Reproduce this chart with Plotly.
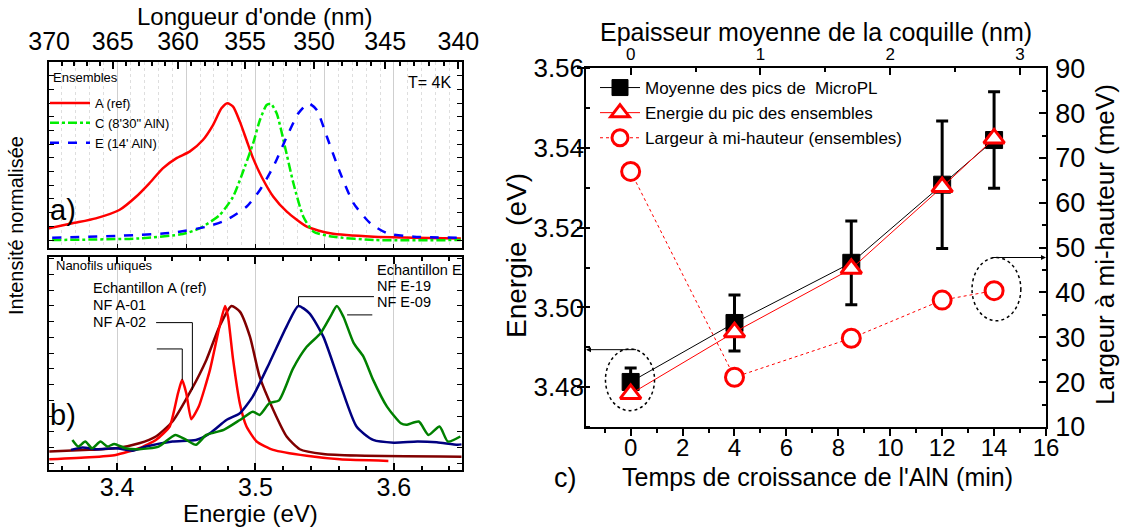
import plotly.graph_objects as go

FONT = "Liberation Sans, Arial, sans-serif"

# ---------------- Panel a : ensembles (normalised PL) ----------------
ensA_E = [3.3507, 3.3677, 3.3846, 3.4016, 3.4137, 3.4233, 3.433, 3.4427, 3.4524, 3.462, 3.4693,
          3.4754, 3.4797, 3.4838, 3.4887, 3.4935, 3.4983, 3.5044, 3.5129, 3.5226, 3.5371, 3.554,
          3.5855, 3.6484]
ensA_I = [0.085, 0.122, 0.158, 0.219, 0.316, 0.414, 0.523, 0.596, 0.645, 0.73, 0.839,
          0.961, 0.998, 0.973, 0.864, 0.73, 0.596, 0.462, 0.316, 0.207, 0.097, 0.049,
          0.024, 0.012]

ensC_E = [3.3531, 3.4161, 3.4475, 3.4596, 3.4741, 3.4838, 3.4923, 3.4983, 3.5032, 3.508, 3.511,
          3.5153, 3.5213, 3.5274, 3.5346, 3.5419, 3.5564, 3.5855, 3.6484]
ensC_I = [0.0, 0.012, 0.044, 0.085, 0.182, 0.316, 0.535, 0.706, 0.876, 0.985, 0.995,
          0.925, 0.681, 0.414, 0.170, 0.061, 0.024, 0.0, 0.0]

ensE_E = [3.3531, 3.404, 3.4402, 3.4645, 3.479, 3.4935, 3.5032, 3.5129, 3.5226, 3.531, 3.5383,
          3.5443, 3.5516, 3.5613, 3.5709, 3.583, 3.5952, 3.6145, 3.6484]
ensE_I = [0.017, 0.032, 0.054, 0.097, 0.146, 0.243, 0.365, 0.535, 0.754, 0.925, 0.998,
          0.949, 0.754, 0.487, 0.268, 0.122, 0.049, 0.024, 0.017]

# ---------------- Panel b : single nanowires ----------------
nfA01_E = [3.351, 3.380, 3.399, 3.416, 3.428, 3.438, 3.444, 3.447, 3.450, 3.4536, 3.459, 3.467,
           3.474, 3.478, 3.4802, 3.4838, 3.4887, 3.4935, 3.5008, 3.5128, 3.537, 3.561, 3.596]
nfA01_I = [0.025, 0.038, 0.053, 0.095, 0.148, 0.233, 0.445, 0.53, 0.445, 0.28, 0.36, 0.59,
           0.87, 1.0, 0.93, 0.66, 0.38, 0.233, 0.138, 0.085, 0.047, 0.025, 0.015]

nfA02_E = [3.351, 3.380, 3.399, 3.416, 3.428, 3.440, 3.4536, 3.4645, 3.474, 3.4826, 3.4887,
           3.496, 3.503, 3.5128, 3.5225, 3.532, 3.549, 3.573, 3.649]
nfA02_I = [0.074, 0.085, 0.095, 0.127, 0.17, 0.265, 0.466, 0.657, 0.87, 1.0, 0.964,
           0.805, 0.55, 0.34, 0.17, 0.089, 0.059, 0.049, 0.042]

nfE19_E = [3.3667, 3.375, 3.385, 3.399, 3.411, 3.421, 3.440, 3.457, 3.467, 3.479, 3.4887, 3.498,
           3.510, 3.5225, 3.531, 3.539, 3.549, 3.561, 3.573, 3.585, 3.600, 3.617, 3.631, 3.646, 3.649]
nfE19_I = [0.085, 0.10, 0.089, 0.095, 0.08, 0.106, 0.138, 0.148, 0.19, 0.275, 0.318, 0.424,
           0.636, 0.87, 1.0, 0.953, 0.805, 0.508, 0.233, 0.148, 0.131, 0.138, 0.133, 0.117, 0.12]

nfE09_E = [3.3677, 3.372, 3.377, 3.382, 3.388, 3.393, 3.398, 3.406, 3.416, 3.430, 3.442, 3.450,
           3.457, 3.4645, 3.477, 3.4887, 3.498, 3.503, 3.510, 3.517, 3.527, 3.537, 3.547, 3.554,
           3.5588, 3.5636, 3.571, 3.578, 3.585, 3.595, 3.605, 3.609, 3.618, 3.625, 3.633, 3.639, 3.648]
nfE09_I = [0.148, 0.106, 0.138, 0.095, 0.138, 0.106, 0.123, 0.095, 0.089, 0.106, 0.18, 0.148,
           0.117, 0.18, 0.212, 0.275, 0.328, 0.307, 0.381, 0.40, 0.60, 0.74, 0.826, 0.93,
           1.0, 0.93, 0.763, 0.678, 0.53, 0.36, 0.254, 0.244, 0.265, 0.18, 0.233, 0.138, 0.17]

wavelength_ticks = [370, 365, 360, 355, 350, 345, 340]
HC = 1239.84  # eV.nm

# ---------------- Panel c ----------------
time_min = [0, 4, 8.5, 12, 14]
microPL_mean = [3.4813, 3.4961, 3.5112, 3.5308, 3.5420]
microPL_err = [0.0035, 0.0070, 0.0105, 0.0160, 0.0121]
ens_peak = [3.4783, 3.4938, 3.5097, 3.5302, 3.5424]
ens_fwhm = [67.0, 21.1, 29.8, 38.3, 40.4]

W, H = 1122, 532
def px(x): return x / W
def py(y): return 1 - y / H

fig = go.Figure()

# panel a traces
fig.add_trace(go.Scatter(x=ensA_E, y=ensA_I, mode="lines", name="A (ref)", xaxis="x2", yaxis="y2",
                         line=dict(color="#ff0000", width=2.5, shape="spline", smoothing=0.6), legend="legend"))
fig.add_trace(go.Scatter(x=ensC_E, y=ensC_I, mode="lines", name="C (8'30\" AlN)", xaxis="x2", yaxis="y2",
                         line=dict(color="#00ee00", width=2.5, dash="dashdot", shape="spline", smoothing=0.6), legend="legend"))
fig.add_trace(go.Scatter(x=ensE_E, y=ensE_I, mode="lines", name="E (14' AlN)", xaxis="x2", yaxis="y2",
                         line=dict(color="#0000ff", width=2.5, dash="dash", shape="spline", smoothing=0.6), legend="legend"))
fig.add_trace(go.Scatter(x=[], y=[], xaxis="x3", yaxis="y2", showlegend=False, hoverinfo="skip"))

# panel b traces
fig.add_trace(go.Scatter(x=nfA02_E, y=nfA02_I, mode="lines", xaxis="x", yaxis="y", showlegend=False,
                         line=dict(color="#800000", width=2.5, shape="spline", smoothing=0.6)))
fig.add_trace(go.Scatter(x=nfA01_E, y=nfA01_I, mode="lines", xaxis="x", yaxis="y", showlegend=False,
                         line=dict(color="#ff0000", width=2.5, shape="spline", smoothing=0.5)))
fig.add_trace(go.Scatter(x=nfE19_E, y=nfE19_I, mode="lines", xaxis="x", yaxis="y", showlegend=False,
                         line=dict(color="#000080", width=2.5, shape="spline", smoothing=0.6)))
fig.add_trace(go.Scatter(x=nfE09_E, y=nfE09_I, mode="lines", xaxis="x", yaxis="y", showlegend=False,
                         line=dict(color="#008000", width=2.5, shape="spline", smoothing=0.6)))

# panel c traces
fig.add_trace(go.Scatter(x=time_min, y=microPL_mean, mode="lines+markers", name="Moyenne des pics de\u00a0 MicroPL",
                         xaxis="x4", yaxis="y4", legend="legend2",
                         line=dict(color="black", width=1),
                         marker=dict(symbol="square", size=17, color="black", line=dict(color="black", width=1)),
                         error_y=dict(type="data", array=microPL_err, visible=True, color="black", thickness=3, width=6)))
fig.add_trace(go.Scatter(x=time_min, y=ens_peak, mode="lines+markers", name="Energie du pic des ensembles",
                         xaxis="x4", yaxis="y4", legend="legend2",
                         line=dict(color="#ff0000", width=1),
                         marker=dict(symbol="triangle-up", size=18, color="white", line=dict(color="#ff0000", width=3))))
fig.add_trace(go.Scatter(x=time_min, y=ens_fwhm, mode="lines+markers", name="Largeur à mi-hauteur (ensembles)",
                         xaxis="x4", yaxis="y5", legend="legend2",
                         line=dict(color="#ff0000", width=1, dash="dot"),
                         marker=dict(symbol="circle", size=18, color="white", line=dict(color="#ff0000", width=3))))
fig.add_trace(go.Scatter(x=[], y=[], xaxis="x5", yaxis="y4", showlegend=False, hoverinfo="skip"))

LX = [px(49), px(461.7)]
ERANGE = [3.3508, 3.649]
base_ax = dict(showline=True, linecolor="black", zeroline=False, tickcolor="black", automargin=False,
               tickfont=dict(family=FONT, color="black"))

layout = dict(
    template="none",
    width=W, height=H, margin=dict(l=0, r=0, t=0, b=0, autoexpand=False),
    paper_bgcolor="white", plot_bgcolor="white",
    font=dict(family=FONT, color="black"),
    showlegend=True,
    # panel b
    xaxis=dict(base_ax, domain=LX, anchor="y", range=ERANGE, dtick=0.1, tick0=3.4, ticks="inside",
               ticklen=7, tickwidth=1.5, linewidth=2, mirror="ticks", showgrid=True, gridcolor="#cfcfcf",
               gridwidth=1, tickfont=dict(family=FONT, size=25, color="black"), ticklabelstandoff=-6,
               minor=dict(dtick=0.02, tick0=3.4, ticks="inside", ticklen=4, tickcolor="black", showgrid=False)),
    yaxis=dict(base_ax, domain=[py(470), py(256.7)], anchor="x", range=[-0.043, 1.313], showticklabels=False,
               ticks="inside", dtick=0.1, tick0=0, ticklen=5, linewidth=2, mirror="ticks", showgrid=False),
    # panel a
    xaxis2=dict(base_ax, domain=LX, anchor="y2", range=ERANGE, showticklabels=False, ticks="inside",
                dtick=0.05, tick0=3.4, ticklen=4, linewidth=2, mirror=True, showgrid=True, gridcolor="#cfcfcf",
                gridwidth=1,
                minor=dict(dtick=0.01, tick0=3.4, ticks="", showgrid=True, griddash="dot",
                           gridcolor="#dedede", gridwidth=1)),
    xaxis3=dict(base_ax, overlaying="x2", side="top", anchor="y2", range=ERANGE, showline=False,
                tickmode="array", tickvals=[HC / w for w in wavelength_ticks],
                ticktext=[str(w) for w in wavelength_ticks], ticks="inside", ticklen=7, tickwidth=1.5,
                tickfont=dict(family=FONT, size=25, color="black"), ticklabelstandoff=6, showgrid=False,
                minor=dict(tickmode="array", tickvals=[HC / w for w in range(340, 371)], ticks="inside",
                           ticklen=4, tickcolor="black")),
    yaxis2=dict(base_ax, domain=[py(247.7), py(62.3)], anchor="x2", range=[-0.056, 1.297], showticklabels=False,
                ticks="inside", dtick=0.1, tick0=0, ticklen=5, linewidth=2, mirror="ticks", showgrid=False),
    # panel c
    xaxis4=dict(base_ax, domain=[px(586), px(1046)], anchor="y4", range=[-1.72, 16], dtick=2, tick0=0,
                ticks="outside", ticklen=7, tickwidth=1.5, linewidth=1.5, showgrid=False,
                tickfont=dict(family=FONT, size=24, color="black"), ticklabelstandoff=-9,
                minor=dict(dtick=1, tick0=0, ticks="outside", ticklen=4, tickcolor="black")),
    xaxis5=dict(base_ax, overlaying="x4", side="top", anchor="y4", range=[-0.344, 3.2], dtick=1, tick0=0,
                ticks="inside", ticklen=7, tickwidth=1.5, linewidth=1.5, showgrid=False,
                tickfont=dict(family=FONT, size=17, color="black"),
                minor=dict(dtick=0.5, tick0=0, ticks="inside", ticklen=4, tickcolor="black")),
    yaxis4=dict(base_ax, domain=[py(427), py(68.3)], anchor="x4", range=[3.47, 3.56], dtick=0.02, tick0=3.48,
                tickformat=".2f", ticks="outside", ticklen=7, tickwidth=1.5, linewidth=1.5, showgrid=False,
                tickfont=dict(family=FONT, size=26, color="black"), ticklabelstandoff=-12,
                minor=dict(dtick=0.01, tick0=3.48, ticks="inside", ticklen=4, tickcolor="black")),
    yaxis5=dict(base_ax, overlaying="y4", side="right", anchor="x4", range=[10, 90], dtick=10, tick0=10,
                ticks="inside", ticklen=7, tickwidth=1.5, linewidth=1.5, showgrid=False,
                tickfont=dict(family=FONT, size=27, color="black"), ticklabelstandoff=2,
                minor=dict(dtick=5, tick0=10, ticks="inside", ticklen=4, tickcolor="black")),
    legend=dict(x=px(45), y=py(88), xanchor="left", yanchor="top", bgcolor="rgba(0,0,0,0)",
                font=dict(family=FONT, size=13, color="black"), tracegroupgap=0, itemwidth=40),
    legend2=dict(x=px(595), y=py(70), xanchor="left", yanchor="top", bgcolor="rgba(0,0,0,0)",
                 font=dict(family=FONT, size=17, color="black"), tracegroupgap=0, itemwidth=40),
)
fig.update_layout(**layout)

def txt(text, x, y, size, xanchor="center", angle=0):
    fig.add_annotation(text=text, x=px(x), y=py(y), xref="paper", yref="paper", showarrow=False,
                       xanchor=xanchor, yanchor="middle", textangle=angle,
                       font=dict(family=FONT, size=size, color="black"))

txt("Longueur d'onde (nm)", 254, 16, 24)
txt("Intensité normalisée", 16, 226, 20, angle=-90)
txt("Energie (eV)", 250, 513, 24)
txt("Ensembles", 51, 78, 13, "left")
txt("T= 4K", 453, 82, 16, "right")
txt("a)", 48, 210, 29, "left")
txt("b)", 48, 415, 29, "left")
txt("Nanofils uniques", 54, 265, 13, "left")
txt("Echantillon A (ref)", 91, 288, 14.5, "left")
txt("NF A-01", 91, 305, 14.5, "left")
txt("NF A-02", 91, 322, 14.5, "left")
txt("Echantillon E", 375, 270, 14.5, "left")
txt("NF E-19", 375, 286, 14.5, "left")
txt("NF E-09", 375, 302, 14.5, "left")
txt("Epaisseur moyenne de la coquille (nm)", 816, 32, 25)
txt("Energie\u00a0 (eV)", 516, 256, 28, angle=-90)
txt("Largeur à mi-hauteur (meV)", 1105, 245, 26, angle=-90)
txt("Temps de croissance de l'AlN (min)", 817, 477, 25)
txt("c)", 552, 478, 27, "left")

# leader lines in panel b
lead = dict(color="black", width=1)
for (x0, y0, x1, y1) in [(3.4287, 0.7266, 3.4471, 0.7266), (3.4471, 0.7266, 3.4471, 0.53),
                         (3.4282, 0.894, 3.4544, 0.894), (3.4544, 0.894, 3.4544, 0.466),
                         (3.5311, 1.0, 3.5311, 1.059), (3.5311, 1.059, 3.5856, 1.059),
                         (3.5662, 0.943, 3.5844, 0.943)]:
    fig.add_shape(type="line", xref="x", yref="y", x0=x0, y0=y0, x1=x1, y1=y1, line=lead)

# dotted ellipses and arrows in panel c
fig.add_shape(type="circle", xref="x4", yref="y4", x0=time_min[0] - 0.97, x1=time_min[0] + 0.92,
              y0=3.4741, y1=3.4896, line=dict(color="black", width=1.5, dash="dot"))
fig.add_shape(type="circle", xref="x4", yref="y5", x0=time_min[4] - 0.85, x1=time_min[4] + 1.03,
              y0=33.7, y1=47.8, line=dict(color="black", width=1.5, dash="dot"))
fig.add_annotation(x=-1.72, y=3.4894, ax=time_min[0] + 0.27, ay=3.4894, xref="x4", yref="y4",
                   axref="x4", ayref="y4", text="", showarrow=True, arrowhead=2, arrowsize=1, arrowwidth=1,
                   arrowcolor="black")
fig.add_annotation(x=16, y=47.8, ax=time_min[4] - 0.13, ay=47.8, xref="x4", yref="y5",
                   axref="x4", ayref="y5", text="", showarrow=True, arrowhead=2, arrowsize=1, arrowwidth=1,
                   arrowcolor="black")

fig.write_html("out.html", config={"displayModeBar": False},
               post_script="document.body.style.margin='0px';")
